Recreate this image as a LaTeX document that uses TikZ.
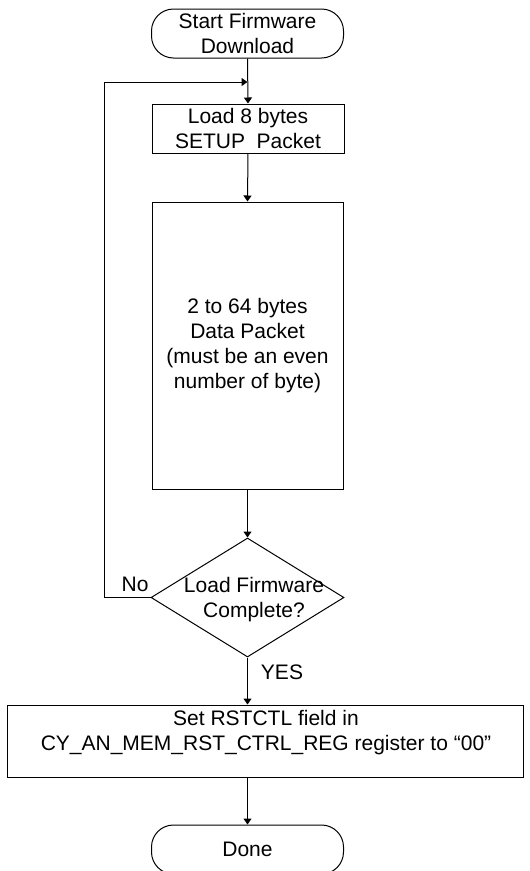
\documentclass[tikz,border=0pt]{standalone}
\usepackage{fontspec}
\setmainfont{Liberation Sans}
\usetikzlibrary{arrows.meta,shapes.geometric}

\begin{document}
\begin{tikzpicture}[x=1pt,y=-1pt,
  line width=1pt,
  every node/.style={font=\fontsize{21}{25}\selectfont, align=center, inner sep=0pt},
  terminal/.style={draw, rectangle, rounded corners=22pt, minimum width=192pt, minimum height=49pt},
  procbox/.style={draw, rectangle},
  decision/.style={draw, diamond, minimum width=193pt, minimum height=119pt},
  flow/.style={-{Triangle[width=8pt,length=6pt]}},
  plainlabel/.style={draw=none}
]
\useasboundingbox (0,0) rectangle (530,871);

% nodes
\node[terminal] (start) at (247.5,33.5) {Start Firmware\\Download};
\node[procbox, minimum width=192pt, minimum height=49pt] (setup) at (248,128.5) {Load 8 bytes\\SETUP\ \ Packet};
\node[procbox, minimum width=191pt, minimum height=287pt] (data) at (247.5,345.5) {2 to 64 bytes\\Data Packet\\(must be an even\\number of byte)};
\node[decision] (check) at (247.5,597.5) {};
\node[plainlabel] (checktext) at (254,600) {Load Firmware\\Complete?};
\node[procbox, minimum width=516pt, minimum height=72pt] (rst) at (265,741) {};
\node[plainlabel] (rsttext) at (266,733) {Set RSTCTL field in\\CY\_AN\_MEM\_RST\_CTRL\_REG register to “00”};
\node[terminal] (done) at (247.5,849.5) {Done};

\node[plainlabel, anchor=east] (nolabel) at (149,584) {No};
\node[plainlabel] (yeslabel) at (282,672) {YES};

\coordinate (join) at (247.5,82);
\coordinate (loopbottom) at (104,597.5);
\coordinate (looptop) at (104,82);

% connectors
\draw[flow] (start.south) -- (setup.north);
\draw[flow] (setup.south) -- (data.north);
\draw[flow] (data.south) -- (check.north);
\draw[flow] (check.west) -- (loopbottom) -- (looptop) -- (join);
\draw[flow] (check.south) -- (check.south |- rst.north);
\draw[flow] (done.north |- rst.south) -- (done.north);
\end{tikzpicture}
\end{document}
